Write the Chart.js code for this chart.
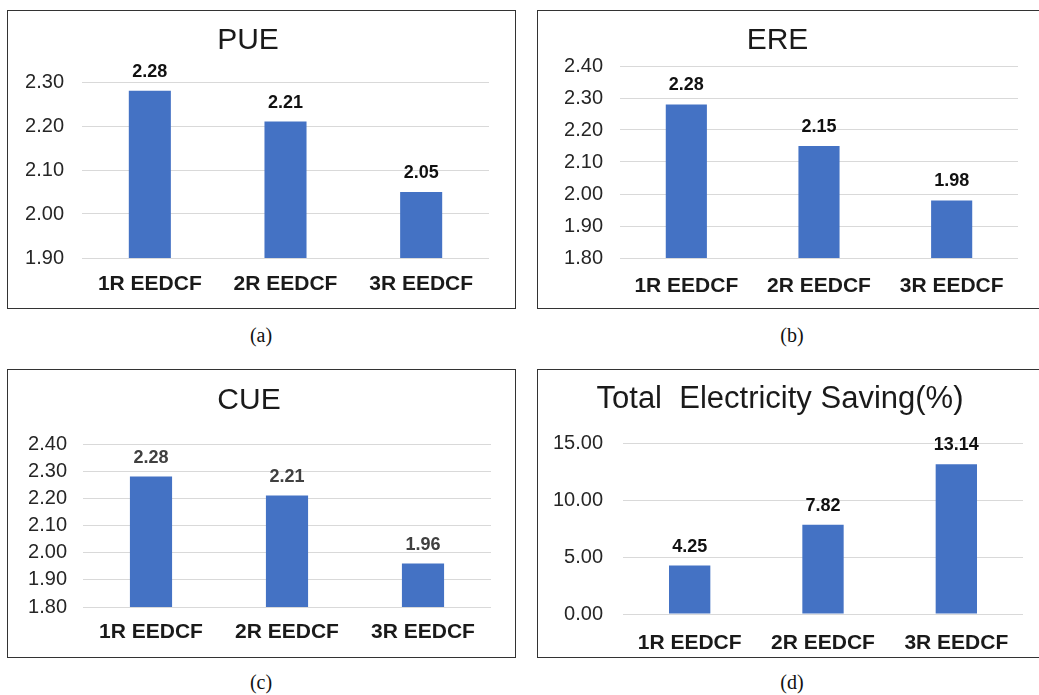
<!DOCTYPE html>
<html>
<head>
<meta charset="utf-8">
<script src="https://cdn.jsdelivr.net/npm/chart.js@4.4.1/dist/chart.umd.min.js"></script>
<style>
  html, body { margin: 0; padding: 0; background: #fff; }
  body { width: 1039px; height: 695px; overflow: hidden; position: relative; }
  .panel { position: absolute; }
  .panel canvas { position: absolute; left: 0; top: 0; }
  .frame { position: absolute; border: 1.5px solid #333; box-sizing: border-box; pointer-events: none; }
  .cap { position: absolute; font-family: "Liberation Serif", "Times New Roman", serif; font-size: 20px;
         color: #111; transform: translate(-50%, -50%); white-space: nowrap; }
</style>
</head>
<body>
<script>
// Categories shared by all four panels
const categories = ['1R EEDCF', '2R EEDCF', '3R EEDCF'];

// Series values
const pueValues = [2.28, 2.21, 2.05];
const ereValues = [2.28, 2.15, 1.98];
const cueValues = [2.28, 2.21, 1.96];
const savingValues = [4.25, 7.82, 13.14];

// Value-axis tick labels
const pueTicks = [1.90, 2.00, 2.10, 2.20, 2.30];
const ereTicks = [1.80, 1.90, 2.00, 2.10, 2.20, 2.30, 2.40];
const cueTicks = [1.80, 1.90, 2.00, 2.10, 2.20, 2.30, 2.40];
const savingTicks = [0, 5, 10, 15];

// Panel titles and captions
const titles = ['PUE', 'ERE', 'CUE', 'Total  Electricity Saving(%)'];
const captions = ['(a)', '(b)', '(c)', '(d)'];

const FONT = '"Liberation Sans", Arial, Helvetica, sans-serif';
const BAR_COLOR = '#4472C4';

// Layout of each panel: frame box on the page and plot area inside the canvas
const panels = [
  { values: pueValues, ticks: pueTicks, title: titles[0], caption: captions[0],
    box: [7, 10, 509, 299], area: [75, 72, 482, 248], titleY: 31, titleSize: 30,
    tickPad: 18, catPad: 14, valueColor: '#111', capPos: [261, 335] },
  { values: ereValues, ticks: ereTicks, title: titles[1], caption: captions[1],
    box: [537, 10, 510, 299], area: [83, 56, 481, 248], titleY: 31, titleSize: 30,
    tickPad: 17, catPad: 16, valueColor: '#111', capPos: [792, 335] },
  { values: cueValues, ticks: cueTicks, title: titles[2], caption: captions[2],
    box: [7, 369, 509, 289], area: [76, 75, 484, 238], titleY: 32, titleSize: 30,
    tickPad: 16, catPad: 13, valueColor: '#404040', capPos: [261, 682] },
  { values: savingValues, ticks: savingTicks, title: titles[3], caption: captions[3],
    box: [537, 369, 510, 289], area: [86, 74, 486, 245], titleY: 30, titleSize: 31,
    tickPad: 20, catPad: 17, valueColor: '#111', capPos: [792, 682] }
];

// Writes the value above each bar
const valueLabels = {
  id: 'valueLabels',
  afterDatasetsDraw(chart, args, opts) {
    const ctx = chart.ctx;
    const meta = chart.getDatasetMeta(0);
    const data = chart.data.datasets[0].data;
    ctx.save();
    ctx.font = 'bold 18px ' + FONT;
    ctx.fillStyle = opts.color || '#111';
    ctx.textAlign = 'center';
    ctx.textBaseline = 'alphabetic';
    meta.data.forEach((bar, i) => {
      ctx.fillText(data[i].toFixed(2), bar.x, bar.y - 14);
    });
    ctx.restore();
  }
};

panels.forEach(p => {
  const [bx, by, bw, bh] = p.box;
  const [al, at, ar, ab] = p.area;

  const wrap = document.createElement('div');
  wrap.className = 'panel';
  wrap.style.left = bx + 'px';
  wrap.style.top = by + 'px';
  wrap.style.width = bw + 'px';
  wrap.style.height = bh + 'px';
  const canvas = document.createElement('canvas');
  canvas.width = bw;
  canvas.height = bh;
  canvas.style.width = bw + 'px';
  canvas.style.height = bh + 'px';
  wrap.appendChild(canvas);
  document.body.appendChild(wrap);

  const frame = document.createElement('div');
  frame.className = 'frame';
  frame.style.left = bx + 'px';
  frame.style.top = by + 'px';
  frame.style.width = bw + 'px';
  frame.style.height = bh + 'px';
  document.body.appendChild(frame);

  const cap = document.createElement('div');
  cap.className = 'cap';
  cap.textContent = p.caption;
  cap.style.left = p.capPos[0] + 'px';
  cap.style.top = p.capPos[1] + 'px';
  document.body.appendChild(cap);

  const lineH = p.titleSize * 1.2;
  const tMin = p.ticks[0];
  const tMax = p.ticks[p.ticks.length - 1];
  const tStep = p.ticks[1] - p.ticks[0];

  new Chart(canvas, {
    type: 'bar',
    data: {
      labels: categories,
      datasets: [{
        data: p.values,
        backgroundColor: BAR_COLOR,
        borderWidth: 0,
        categoryPercentage: 0.31,
        barPercentage: 1
      }]
    },
    options: {
      responsive: false,
      animation: false,
      devicePixelRatio: 1,
      layout: { padding: { left: 0, top: 0, right: bw - ar, bottom: 0 } },
      plugins: {
        legend: { display: false },
        tooltip: { enabled: false },
        title: {
          display: true,
          text: p.title,
          color: '#1a1a1a',
          font: { family: FONT, size: p.titleSize, weight: 'normal', lineHeight: 1.2 },
          padding: { top: p.titleY - lineH / 2, bottom: at - p.titleY - lineH / 2 }
        },
        valueLabels: { color: p.valueColor }
      },
      scales: {
        x: {
          grid: { display: false, drawTicks: false },
          border: { display: false },
          ticks: {
            color: '#1a1a1a',
            padding: p.catPad,
            maxRotation: 0,
            autoSkip: false,
            font: { family: FONT, size: 21, weight: 'bold' }
          },
          afterFit(scale) { scale.height = bh - ab; }
        },
        y: {
          min: tMin,
          max: tMax,
          grid: { color: '#d9d9d9', lineWidth: 1, drawTicks: false },
          border: { display: false },
          ticks: {
            stepSize: tStep,
            padding: p.tickPad,
            color: '#262626',
            font: { family: FONT, size: 20 },
            callback: v => Number(v).toFixed(2)
          },
          afterFit(scale) { scale.width = al; }
        }
      }
    },
    plugins: [valueLabels]
  });
});
</script>
</body>
</html>
